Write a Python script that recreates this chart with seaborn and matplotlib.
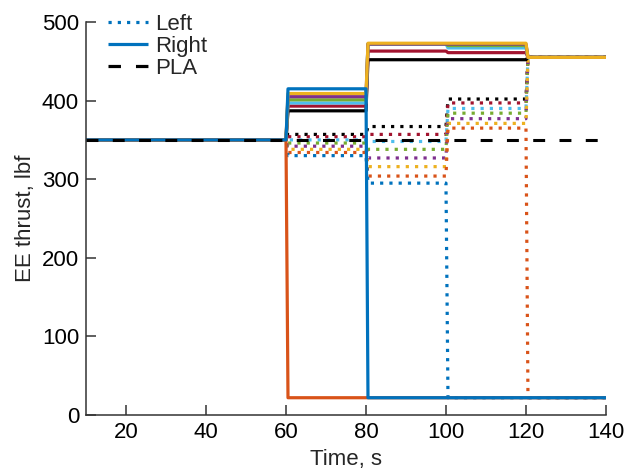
import matplotlib
matplotlib.use("Agg")
import matplotlib.pyplot as plt
from matplotlib.lines import Line2D
import numpy as np
import pandas as pd
import seaborn as sns

# ---- data ----
engines = ["E1", "E2", "E3", "E4", "E5", "E6", "E7", "E8"]
colors = ["#0072BD", "#D95319", "#EDB120", "#7E2F8E",
          "#77AC30", "#4DBEEE", "#A2142F", "#000000"]
segment_start = [10, 60, 80, 100, 120]
t_end = 140
ramp_s = 0.5  # transition time at each event

# thrust levels (lbf) in each segment: <60, 60-80, 80-100, 100-120, >120
left_levels = {
    "E1": [350, 330, 295, 22, 22],
    "E2": [350, 334, 304, 365, 22],
    "E3": [350, 338, 316, 371, 455],
    "E4": [350, 342, 327, 377, 455],
    "E5": [350, 346, 338, 384, 455],
    "E6": [350, 350, 348, 390, 455],
    "E7": [350, 354, 357, 397, 455],
    "E8": [350, 357, 367, 402, 455],
}
right_levels = {
    "E1": [350, 415, 22, 22, 22],
    "E2": [350, 22, 22, 22, 22],
    "E3": [350, 409, 473, 473, 455],
    "E4": [350, 405, 472, 472, 455],
    "E5": [350, 401, 472, 470, 455],
    "E6": [350, 397, 472, 467, 455],
    "E7": [350, 393, 463, 461, 455],
    "E8": [350, 387, 452, 452, 455],
}
pla_level = 350


def series(levels):
    t, v = [], []
    bounds = segment_start[1:] + [t_end]
    for i, lv in enumerate(levels):
        start = segment_start[i] + (ramp_s if i > 0 else 0)
        t += [start, bounds[i]]
        v += [lv, lv]
    return t, v


# ---- style ----
sns.set_style("ticks")
plt.rcParams["font.family"] = ["Liberation Sans", "DejaVu Sans"]
plt.rcParams["lines.dotted_pattern"] = [1.0, 1.9]
plt.rcParams["lines.dashed_pattern"] = [3.9, 4.7]
plt.rcParams["lines.solid_capstyle"] = "butt"
FS = 16
axc = "#333333"

fig = plt.figure(figsize=(6.26, 4.69), dpi=100)
ax = fig.add_axes([0.1374, 0.1151, 0.968 - 0.1374, 0.9531 - 0.1151])

lw = 2.3
# left engines (dotted)
for name, c in reversed(list(zip(engines, colors))):
    t, v = series(left_levels[name])
    sns.lineplot(x=t, y=v, ax=ax, color=c, linestyle=":", lw=lw,
                 estimator=None, sort=False)
# right engines (solid)
for name, c in reversed(list(zip(engines, colors))):
    t, v = series(right_levels[name])
    sns.lineplot(x=t, y=v, ax=ax, color=c, linestyle="-", lw=lw,
                 estimator=None, sort=False)
# PLA
sns.lineplot(x=[segment_start[0], t_end], y=[pla_level, pla_level], ax=ax,
             color="black", linestyle="--", lw=2.2, estimator=None, sort=False)

ax.set_xlim(10, 140)
ax.set_ylim(0, 500)
ax.set_xticks([20, 40, 60, 80, 100, 120, 140])
ax.set_yticks([0, 100, 200, 300, 400, 500])
ax.tick_params(direction="in", length=7.5, width=1.1, color=axc,
               labelsize=FS, pad=5, labelcolor="black")
for s in ["top", "right"]:
    ax.spines[s].set_visible(False)
for s in ["left", "bottom"]:
    ax.spines[s].set_color(axc)
    ax.spines[s].set_linewidth(1.1)
ax.set_xlabel("Time, s", fontsize=FS, labelpad=4)
ax.set_ylabel("EE thrust, lbf", fontsize=FS, labelpad=4)

handles = [
    Line2D([], [], color=colors[0], linestyle=":", lw=lw),
    Line2D([], [], color=colors[0], linestyle="-", lw=lw),
    Line2D([], [], color="black", linestyle="--", lw=lw),
]
fig.legend(handles, ["Left", "Right", "PLA"], loc="upper left",
           bbox_to_anchor=(108 / 626, 1 - 14 / 469), frameon=False,
           fontsize=FS, borderpad=0, borderaxespad=0, labelspacing=0.05,
           handlelength=1.8, handletextpad=0.3)

fig.savefig("out.png", dpi=100)
